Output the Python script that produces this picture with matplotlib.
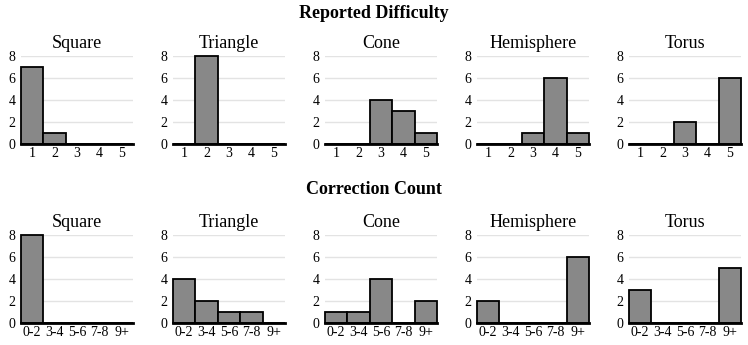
import numpy as np
import matplotlib
matplotlib.use('Agg')
import matplotlib.pyplot as plt

plt.rcParams['font.family'] = ['Liberation Serif', 'DejaVu Serif']

shapes = ['Square', 'Triangle', 'Cone', 'Hemisphere', 'Torus']

# Reported difficulty (1-5) counts per shape
difficulty_labels = ['1', '2', '3', '4', '5']
difficulty = [
    [7, 1, 0, 0, 0],
    [0, 8, 0, 0, 0],
    [0, 0, 4, 3, 1],
    [0, 0, 1, 6, 1],
    [0, 0, 2, 0, 6],
]

# Correction count bins per shape
correction_labels = ['0-2', '3-4', '5-6', '7-8', '9+']
corrections = [
    [8, 0, 0, 0, 0],
    [4, 2, 1, 1, 0],
    [1, 1, 4, 0, 2],
    [2, 0, 0, 0, 6],
    [3, 0, 0, 0, 5],
]

W, H = 748, 345
fig = plt.figure(figsize=(W / 100, H / 100), dpi=100)

lefts = [21, 173, 325, 477, 629]
axw = 112
rows = [(56, 144, difficulty, difficulty_labels, 'Reported Difficulty', 13),
        (235, 323, corrections, correction_labels, 'Correction Count', 190)]

for top, bottom, data, labels, heading, hy in rows:
    fig.text(0.5, 1 - hy / H, heading, ha='center', va='center',
             fontsize=13, fontweight='bold')
    for i, name in enumerate(shapes):
        ax = fig.add_axes([lefts[i] / W, 1 - bottom / H, axw / W, (bottom - top) / H])
        x = np.arange(len(labels))
        ax.bar(x, data[i], width=1.0, color='#888888', edgecolor='black',
               linewidth=1.3, clip_on=False, zorder=3)
        ax.set_xlim(-0.5, len(labels) - 0.5)
        ax.set_ylim(0, 8)
        ax.set_yticks([0, 2, 4, 6, 8])
        ax.set_xticks(x)
        ax.set_xticklabels(labels)
        ax.grid(axis='y', color='#e3e3e3', linewidth=1, zorder=0)
        ax.set_axisbelow(True)
        for s in ax.spines.values():
            s.set_visible(False)
        ax.spines['bottom'].set_visible(True)
        ax.spines['bottom'].set_linewidth(2)
        ax.spines['bottom'].set_zorder(4)
        ax.tick_params(length=0, labelsize=10, pad=4)
        ax.tick_params(axis='x', pad=2)
        ax.set_title(name, fontsize=13, pad=6)

fig.savefig('out.png', dpi=100)
